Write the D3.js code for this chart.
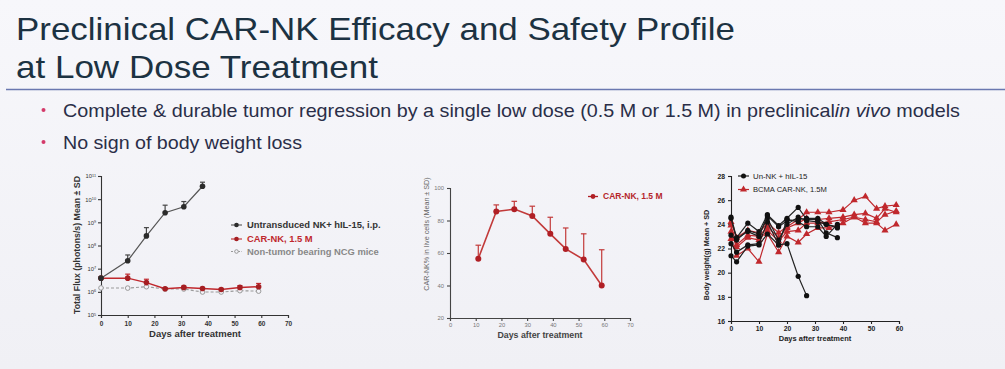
<!DOCTYPE html>
<html><head><meta charset="utf-8">
<script src="https://cdn.jsdelivr.net/npm/d3@7/dist/d3.min.js"></script>
<style>
html,body{margin:0;padding:0;background:#f3f3f8;}
svg{display:block;font-family:"Liberation Sans",Arial,sans-serif;}
</style></head>
<body>
<svg id="c" width="1005" height="369"></svg>
<script>
// ---------- text ----------
const titleLines = ["Preclinical CAR-NK Efficacy and Safety Profile", "at Low Dose Treatment"];
const bullet1 = ["Complete & durable tumor regression by a single low dose (0.5 M or 1.5 M) in preclinical", "in vivo", " models"];
const bullet2 = "No sign of body weight loss";

// ---------- chart 1: tumor flux ----------
const fluxTicks = [5, 6, 7, 8, 9, 10, 11];            // exponents of 10
const dayTicks70 = [0, 10, 20, 30, 40, 50, 60, 70];
const untransDays = [0, 10, 17, 24, 31, 38];
const untransMean = [3.9e6, 2.2e7, 2.6e8, 2.6e9, 4.7e9, 3.6e10];
const untransUpper = [4.4e6, 3.9e7, 5.9e8, 5.5e9, 7.9e9, 5.4e10];
const carDays = [0, 10, 17, 24, 31, 38, 45, 52, 59];
const carMean = [3.9e6, 3.9e6, 2.5e6, 1.35e6, 1.55e6, 1.4e6, 1.26e6, 1.55e6, 1.66e6];
const carUpper = [4.3e6, 5.8e6, 3.5e6, 1.5e6, 1.75e6, 1.55e6, 1.4e6, 1.85e6, 2.3e6];
const nonTumorDays = [0, 10, 17, 24, 31, 38, 45, 52, 59];
const nonTumorMean = [1.48e6, 1.45e6, 1.66e6, 1.32e6, 1.32e6, 0.98e6, 0.98e6, 1.12e6, 1.07e6];
const legend1 = ["Untransduced NK+ hIL-15, i.p.", "CAR-NK, 1.5 M", "Non-tumor bearing NCG mice"];

// ---------- chart 2: CAR-NK % ----------
const pctTicks = [20, 40, 60, 80, 100];
const pctDays = [11, 18, 25, 32, 39, 45, 52, 59];
const pctMean = [56.5, 85.5, 87, 82.8, 71.8, 62.5, 56, 40];
const pctUpper = [64.8, 89.6, 91.8, 88.8, 82, 75.4, 71.8, 62];
const legend2 = "CAR-NK, 1.5 M";

// ---------- chart 3: body weight ----------
const bwTicks = [16, 18, 20, 22, 24, 26, 28];
const dayTicks60 = [0, 10, 20, 30, 40, 50, 60];
const unNKDays = [0, 2, 6, 10, 13, 17, 20, 24, 27, 31, 34, 38];
const unNK1 = [24.6, 22.9, 24.1, 23.4, 24.8, 23.9, 24.5, 25.4, 24.4, 24.4, 23.3, 22.9];
const unNK2 = [23.1, 22.7, 23.5, 23.2, 24.5, 22.7, 24.0, 24.6, 24.3, 24.2, 24.0, 23.8];
const unNK3 = [22.4, 21.7, 22.3, 22.4, 24.2, 22.3, 22.4, 19.7, 18.1];
const unNK4 = [21.4, 20.9, 22.2, 22.3, 23.2, 22.3, 24.4, 24.2, 23.8, 23.8, 23.0, 24.0];
const unNK5 = [24.5, 22.8, 23.4, 23.0, 24.7, 23.8, 24.3, 24.4, 24.5, 24.5, 24.0, 23.7];
const carBwDays = [0, 2, 6, 10, 13, 17, 20, 24, 27, 31, 35, 40, 44, 48, 52, 55, 59];
const carBw1 = [24.2, 22.9, 23.5, 23.3, 24.1, 23.3, 23.8, 24.4, 25.0, 25.0, 25.0, 25.2, 26.0, 26.3, 25.3, 25.5, 25.6];
const carBw2 = [23.9, 22.3, 23.1, 23.0, 23.8, 22.9, 23.7, 24.1, 24.5, 24.4, 24.5, 24.6, 24.8, 24.9, 24.5, 25.3, 25.0];
const carBw3 = [23.4, 22.1, 22.9, 22.7, 23.5, 22.6, 23.4, 23.5, 24.1, 24.1, 24.2, 24.4, 24.6, 24.4, 24.2, 24.8, 25.1];
const carBw4 = [22.8, 21.4, 22.0, 20.9, 23.2, 21.7, 23.0, 22.5, 23.2, 23.7, 23.7, 24.1, 24.6, 24.1, 24.1, 23.5, 24.0];
const legend3 = ["Un-NK + hIL-15", "BCMA CAR-NK, 1.5M"];

const svg = d3.select("#c");
const RED = "#c0282d", BLACK = "#2b2b2b", GRAY = "#9a9a9a";

// background
const defs = svg.append("defs");
const g0 = defs.append("linearGradient").attr("id", "bg").attr("x1", 0).attr("y1", 0).attr("x2", 0).attr("y2", 1);
g0.append("stop").attr("offset", "0").attr("stop-color", "#f7f7fb");
g0.append("stop").attr("offset", "1").attr("stop-color", "#f0f0f5");
svg.append("rect").attr("width", 1005).attr("height", 369).attr("fill", "url(#bg)");

// title
svg.append("text").attr("x", 16).attr("y", 39.5).attr("font-size", 31.5).attr("fill", "#1c3242")
  .attr("textLength", 719).attr("lengthAdjust", "spacingAndGlyphs").text(titleLines[0]);
svg.append("text").attr("x", 16).attr("y", 77.5).attr("font-size", 31.5).attr("fill", "#1c3242")
  .attr("textLength", 362).attr("lengthAdjust", "spacingAndGlyphs").text(titleLines[1]);
svg.append("line").attr("x1", 6).attr("x2", 1005).attr("y1", 89.5).attr("y2", 89.5)
  .attr("stroke", "#6a78b0").attr("stroke-width", 1.6);

// bullets
[110, 142].forEach(cy => {
  svg.append("circle").attr("cx", 43.5).attr("cy", cy).attr("r", 2).attr("fill", "#d43a6a");
});
const b1 = svg.append("text").attr("x", 63).attr("y", 116.5).attr("font-size", 18.5).attr("fill", "#2a2e48")
  .attr("textLength", 897).attr("lengthAdjust", "spacingAndGlyphs");
b1.append("tspan").text(bullet1[0]);
b1.append("tspan").attr("font-style", "italic").text(bullet1[1]);
b1.append("tspan").text(bullet1[2]);
svg.append("text").attr("x", 63).attr("y", 148.5).attr("font-size", 18.5).attr("fill", "#2a2e48")
  .attr("textLength", 239).attr("lengthAdjust", "spacingAndGlyphs").text(bullet2);

function styleAxis(g, col, fs, fw) {
  g.selectAll("path,line").attr("stroke", col).attr("stroke-width", 1.1);
  g.selectAll("text").attr("fill", col).attr("font-size", fs).attr("font-weight", fw)
   .attr("font-family", "'Liberation Sans',Arial,sans-serif");
}
function errBars(g, xs, ys, days, mean, upper, col, cap) {
  days.forEach((d, i) => {
    const x = xs(d), y0 = ys(mean[i]), y1 = ys(upper[i]);
    g.append("line").attr("x1", x).attr("x2", x).attr("y1", y0).attr("y2", y1).attr("stroke", col).attr("stroke-width", 1.2);
    g.append("line").attr("x1", x - cap).attr("x2", x + cap).attr("y1", y1).attr("y2", y1).attr("stroke", col).attr("stroke-width", 1.2);
  });
}

// ================= chart 1 =================
{
  const x = d3.scaleLinear().domain([0, 70]).range([101, 288]);
  const y = d3.scaleLog().domain([1e5, 1e11]).range([315, 176]);
  const g = svg.append("g");
  const ya = g.append("g").attr("transform", "translate(101,0)")
    .call(d3.axisLeft(y).tickValues(fluxTicks.map(e => Math.pow(10, e))).tickSize(3).tickFormat(""));
  ya.selectAll(".tick").append("text").attr("x", -5).attr("dy", "0.32em").attr("text-anchor", "end")
    .each(function (d) {
      const t = d3.select(this);
      t.append("tspan").text("10");
      t.append("tspan").attr("dy", "-0.45em").attr("font-size", 3.8).text(Math.round(Math.log10(d)));
    });
  styleAxis(ya, "#333", 5.8, "normal");
  const xa = g.append("g").attr("transform", "translate(0,315)")
    .call(d3.axisBottom(x).tickValues(dayTicks70).tickSize(3).tickFormat(d3.format("d")));
  styleAxis(xa, "#333", 6.5, "bold");
  xa.selectAll("text").attr("y", 6);
  g.append("text").attr("x", 195).attr("y", 337).attr("text-anchor", "middle").attr("font-size", 9.5)
    .attr("font-weight", "bold").attr("fill", "#333").text("Days after treatment");
  g.append("text").attr("transform", "translate(80,245) rotate(-90)").attr("text-anchor", "middle")
    .attr("font-size", 8.8).attr("font-weight", "bold").attr("fill", "#333").text("Total Flux (photons/s) Mean \u00b1 SD");

  const line = d3.line().x(d => x(d[0])).y(d => y(d[1]));
  // non-tumor
  g.append("path").attr("d", line(d3.zip(nonTumorDays, nonTumorMean))).attr("fill", "none")
    .attr("stroke", GRAY).attr("stroke-width", 1.1).attr("stroke-dasharray", "3,2");
  g.selectAll(".nt").data(d3.zip(nonTumorDays, nonTumorMean)).join("circle").attr("cx", d => x(d[0])).attr("cy", d => y(d[1]))
    .attr("r", 2.3).attr("fill", "#f3f3f8").attr("stroke", GRAY).attr("stroke-width", 1);
  // CAR-NK
  errBars(g, x, y, carDays, carMean, carUpper, RED, 2.5);
  g.append("path").attr("d", line(d3.zip(carDays, carMean))).attr("fill", "none").attr("stroke", RED).attr("stroke-width", 1.5);
  g.selectAll(".car").data(d3.zip(carDays, carMean)).join("circle").attr("cx", d => x(d[0])).attr("cy", d => y(d[1]))
    .attr("r", 2.8).attr("fill", "#a51e22");
  // untransduced
  errBars(g, x, y, untransDays, untransMean, untransUpper, "#444", 2.5);
  g.append("path").attr("d", line(d3.zip(untransDays, untransMean))).attr("fill", "none").attr("stroke", "#555").attr("stroke-width", 1.2);
  g.selectAll(".un").data(d3.zip(untransDays, untransMean)).join("circle").attr("cx", d => x(d[0])).attr("cy", d => y(d[1]))
    .attr("r", 2.8).attr("fill", BLACK);

  // legend
  const lg = [[225, "#333", "#555", "fill"], [239, RED, RED, "fill"], [251.5, "#888", GRAY, "open"]];
  lg.forEach(([ly, tc, lc, kind], i) => {
    g.append("line").attr("x1", 231).attr("x2", 242).attr("y1", ly).attr("y2", ly).attr("stroke", lc)
      .attr("stroke-width", 1.1).attr("stroke-dasharray", kind === "open" ? "2,1.5" : null);
    g.append("circle").attr("cx", 236.5).attr("cy", ly).attr("r", kind === "open" ? 1.8 : 2.3)
      .attr("fill", kind === "open" ? "#f3f3f8" : (i === 1 ? "#a51e22" : BLACK)).attr("stroke", kind === "open" ? GRAY : "none");
    g.append("text").attr("x", 247).attr("y", ly).attr("dy", "0.35em").attr("font-size", 9.4).attr("font-weight", "bold")
      .attr("fill", tc).text(legend1[i]);
  });
}

// ================= chart 2 =================
{
  const x = d3.scaleLinear().domain([0, 70]).range([450, 630]);
  const y = d3.scaleLinear().domain([20, 100]).range([318, 188]);
  const g = svg.append("g");
  const ya = g.append("g").attr("transform", "translate(450,0)")
    .call(d3.axisLeft(y).tickValues(pctTicks).tickSize(3));
  styleAxis(ya, "#444", 5.8, "normal");
  ya.selectAll("text").attr("fill", "#777");
  const xa = g.append("g").attr("transform", "translate(0,318)")
    .call(d3.axisBottom(x).tickValues(dayTicks70).tickSize(3));
  styleAxis(xa, "#444", 5.8, "normal");
  xa.selectAll("text").attr("fill", "#777").attr("y", 5);
  g.append("text").attr("x", 540).attr("y", 338).attr("text-anchor", "middle").attr("font-size", 8.8)
    .attr("font-weight", "bold").attr("fill", "#444").text("Days after treatment");
  g.append("text").attr("transform", "translate(429,234) rotate(-90)").attr("text-anchor", "middle")
    .attr("font-size", 7.2).attr("fill", "#666").text("CAR-NK% in live cells (Mean \u00b1 SD)");

  errBars(g, x, y, pctDays, pctMean, pctUpper, "#c23a3a", 2.8);
  const line = d3.line().x(d => x(d[0])).y(d => y(d[1]));
  g.append("path").attr("d", line(d3.zip(pctDays, pctMean))).attr("fill", "none").attr("stroke", "#c23a3a").attr("stroke-width", 1.6);
  g.selectAll(".p").data(d3.zip(pctDays, pctMean)).join("circle").attr("cx", d => x(d[0])).attr("cy", d => y(d[1]))
    .attr("r", 3).attr("fill", "#b01f25");
  g.append("line").attr("x1", 588).attr("x2", 598).attr("y1", 196.5).attr("y2", 196.5).attr("stroke", "#b01f25").attr("stroke-width", 1.3);
  g.append("circle").attr("cx", 593).attr("cy", 196.5).attr("r", 2.4).attr("fill", "#b01f25");
  g.append("text").attr("x", 603).attr("y", 196.5).attr("dy", "0.35em").attr("font-size", 8.5).attr("font-weight", "bold")
    .attr("fill", "#b5262b").text(legend2);
}

// ================= chart 3 =================
{
  const x = d3.scaleLinear().domain([0, 60]).range([731, 899]);
  const y = d3.scaleLinear().domain([16, 28]).range([321, 176]);
  const g = svg.append("g");
  const ya = g.append("g").attr("transform", "translate(731,0)")
    .call(d3.axisLeft(y).tickValues(bwTicks).tickSize(3));
  styleAxis(ya, "#222", 6.8, "bold");
  const xa = g.append("g").attr("transform", "translate(0,321)")
    .call(d3.axisBottom(x).tickValues(dayTicks60).tickSize(3));
  styleAxis(xa, "#222", 6.8, "bold");
  xa.selectAll("text").attr("y", 5);
  g.append("text").attr("x", 815).attr("y", 341).attr("text-anchor", "middle").attr("font-size", 7.5)
    .attr("font-weight", "bold").attr("fill", "#222").text("Days after treatment");
  g.append("text").attr("transform", "translate(709,255) rotate(-90)").attr("text-anchor", "middle")
    .attr("font-size", 7.2).attr("font-weight", "bold").attr("fill", "#222").text("Body weight(g) Mean + SD");

  const line = d3.line().x(d => x(d[0])).y(d => y(d[1]));
  const reds = [carBw1, carBw2, carBw3, carBw4];
  const blacks = [unNK1, unNK2, unNK3, unNK4, unNK5];
  const tri = d3.symbol().type(d3.symbolTriangle).size(22);
  reds.forEach(vals => {
    const pts = d3.zip(carBwDays, vals);
    g.append("path").attr("d", line(pts)).attr("fill", "none").attr("stroke", "#c0282d").attr("stroke-width", 1.2);
    g.append("g").selectAll("path").data(pts).join("path").attr("d", tri)
      .attr("transform", d => `translate(${x(d[0])},${y(d[1])})`).attr("fill", "#c0282d");
  });
  blacks.forEach(vals => {
    const pts = d3.zip(unNKDays.slice(0, vals.length), vals);
    g.append("path").attr("d", line(pts)).attr("fill", "none").attr("stroke", "#222").attr("stroke-width", 1.2);
    g.append("g").selectAll("circle").data(pts).join("circle").attr("cx", d => x(d[0])).attr("cy", d => y(d[1]))
      .attr("r", 2.6).attr("fill", "#111");
  });
  // legend
  g.append("line").attr("x1", 738).attr("x2", 749).attr("y1", 176).attr("y2", 176).attr("stroke", "#222").attr("stroke-width", 1.2);
  g.append("circle").attr("cx", 743.5).attr("cy", 176).attr("r", 2.5).attr("fill", "#111");
  g.append("text").attr("x", 753).attr("y", 176).attr("dy", "0.35em").attr("font-size", 7.8).attr("fill", "#222").text(legend3[0]);
  g.append("line").attr("x1", 738).attr("x2", 749).attr("y1", 189.5).attr("y2", 189.5).attr("stroke", "#c0282d").attr("stroke-width", 1.2);
  g.append("path").attr("d", tri).attr("transform", "translate(743.5,189.5)").attr("fill", "#c0282d");
  g.append("text").attr("x", 753).attr("y", 189.5).attr("dy", "0.35em").attr("font-size", 7.6).attr("fill", "#222").text(legend3[1]);
}
</script>
</body></html>
